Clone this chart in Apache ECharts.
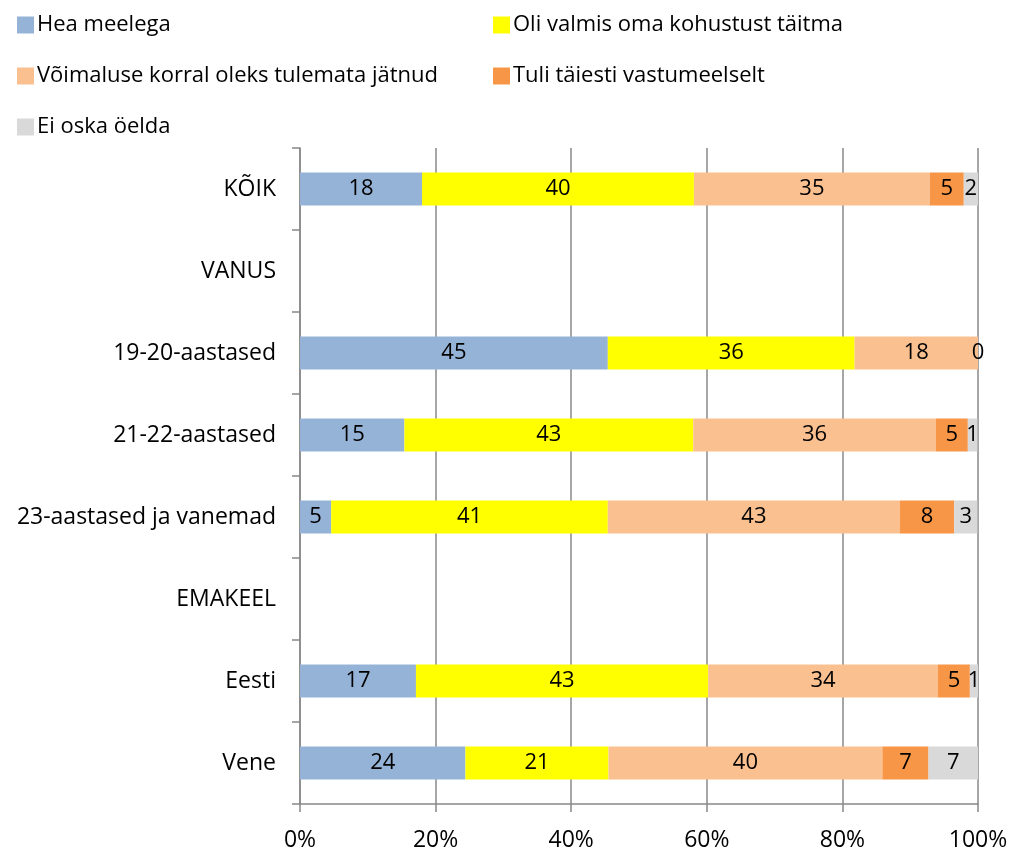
<!DOCTYPE html>
<html>
<head>
<meta charset="utf-8">
<script src="https://cdn.jsdelivr.net/npm/echarts@6/dist/echarts.min.js"></script>
<style>
  html, body { margin: 0; padding: 0; background: #fff; }
  #chart { width: 1011px; height: 852px; }
</style>
</head>
<body>
<div id="chart"></div>
<script>
// categories, top to bottom
const CATEGORIES = ['KÕIK', 'VANUS', '19-20-aastased', '21-22-aastased', '23-aastased ja vanemad', 'EMAKEEL', 'Eesti', 'Vene'];
const SERIES_NAMES = ['Hea meelega', 'Oli valmis oma kohustust täitma', 'Võimaluse korral oleks tulemata jätnud', 'Tuli täiesti vastumeelselt', 'Ei oska öelda'];
const COLORS = ['#95b3d7', '#ffff00', '#fac090', '#f79646', '#d9d9d9'];

// percentages
const HEA = [18.0, null, 45.4, 15.4, 4.6, null, 17.1, 24.4];
const OLI = [40.1, null, 36.4, 42.6, 40.8, null, 43.1, 21.1];
const VOIM = [34.8, null, 18.2, 35.8, 43.1, null, 33.9, 40.4];
const TULI = [5.0, null, 0, 4.7, 8.0, null, 4.7, 6.8];
const EI = [2.1, null, null, 1.4, 3.4, null, 1.2, 7.3];

const X_TICKS = [0, 20, 40, 60, 80, 100];

const FONT = 'Open Sans';
const FS = 23;
var myChart = echarts.init(document.getElementById('chart'));

const seriesData = [HEA, OLI, VOIM, TULI, EI];

// legend positions (two columns, three rows)
const legendPos = [[12, 9], [488, 9], [12, 60], [488, 60], [12, 111]];
const legends = SERIES_NAMES.map(function (name, i) {
  return {
    data: [name],
    left: legendPos[i][0],
    top: legendPos[i][1],
    itemWidth: 17,
    itemHeight: 17,
    itemGap: 0,
    icon: 'rect',
    selectedMode: false,
    textStyle: { fontFamily: FONT, fontSize: 22, color: '#000', padding: [0, 0, 0, -2] }
  };
});

myChart.setOption({
  animation: false,
  color: COLORS,
  legend: legends,
  grid: {
    left: 300,
    right: 33,
    top: 148,
    bottom: 47
  },
  xAxis: {
    type: 'value',
    min: 0,
    max: 100,
    interval: 20,
    axisLine: { show: true, lineStyle: { color: '#888', width: 1.5 } },
    axisTick: { show: true, length: 8, lineStyle: { color: '#888', width: 1.5 } },
    splitLine: { show: true, lineStyle: { color: '#888', width: 1.5 } },
    axisLabel: {
      formatter: function (v) { return X_TICKS.indexOf(v) >= 0 ? v + '%' : ''; },
      fontFamily: FONT,
      fontSize: FS,
      color: '#000',
      margin: 25
    }
  },
  yAxis: {
    type: 'category',
    inverse: true,
    data: CATEGORIES,
    axisLine: { show: true, lineStyle: { color: '#888', width: 1.5 } },
    axisTick: { show: true, length: 8, inside: false, lineStyle: { color: '#888', width: 1.5 } },
    axisLabel: { fontFamily: FONT, fontSize: FS, color: '#000', margin: 24 }
  },
  series: SERIES_NAMES.map(function (name, i) {
    return {
      name: name,
      type: 'bar',
      stack: 'total',
      barWidth: 33,
      data: seriesData[i],
      label: {
        show: true,
        position: 'inside',
        fontFamily: FONT,
        fontSize: 22,
        color: '#000',
        formatter: function (p) { return p.value == null ? '' : Math.round(p.value); }
      }
    };
  })
});
</script>
</body>
</html>
